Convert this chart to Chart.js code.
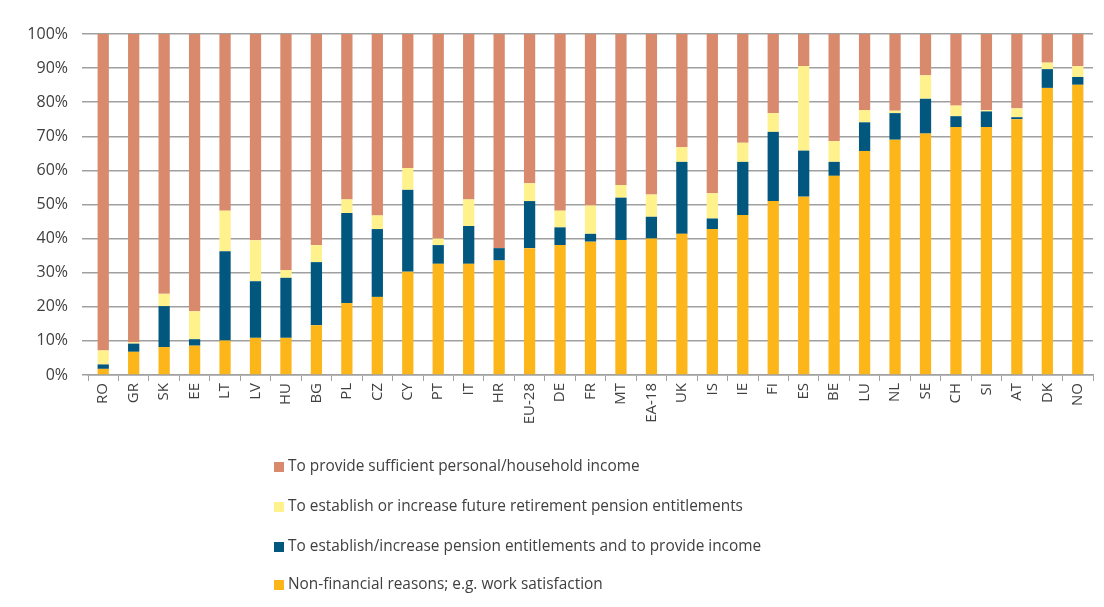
<!DOCTYPE html>
<html>
<head>
<meta charset="utf-8">
<script src="https://cdn.jsdelivr.net/npm/chart.js@4"></script>
<style>
  body { margin: 0; background: #fff; }
  #wrap { position: relative; width: 1104px; height: 607px; }
  #legend { position: absolute; left: 274px; top: 0; font-family: "Open Sans", sans-serif; font-size: 15.4px; color: #404040; }
  .item { position: absolute; white-space: nowrap; left: 0; }
  .item span.box { display: inline-block; width: 10px; height: 10px; margin-right: 4px; vertical-align: -1px; }
</style>
</head>
<body>
<div id="wrap">
  <canvas id="chart" width="1104" height="607"></canvas>
  <div id="legend"></div>
</div>
<script>
var countries = ['RO','GR','SK','EE','LT','LV','HU','BG','PL','CZ','CY','PT','IT','HR','EU-28','DE','FR','MT','EA-18','UK','IS','IE','FI','ES','BE','LU','NL','SE','CH','SI','AT','DK','NO']

var nonFinancial = [1.8, 6.8, 8.2, 8.6, 10.1, 10.9, 10.9, 14.6, 21.1, 22.9, 30.3, 32.6, 32.6, 33.6, 37.2, 38.1, 39.1, 39.6, 40.0, 41.4, 42.8, 46.9, 51.0, 52.3, 58.4, 65.7, 69.0, 70.8, 72.7, 72.7, 75.0, 84.2, 85.1]
var pensionAndIncome = [1.3, 2.4, 12.0, 1.9, 26.2, 16.6, 17.6, 18.5, 26.4, 19.9, 24.0, 5.5, 11.1, 3.6, 13.8, 5.2, 2.3, 12.4, 6.4, 21.1, 3.1, 15.6, 20.3, 13.5, 4.1, 8.4, 7.8, 10.2, 3.2, 4.6, 0.6, 5.5, 2.3]
var retirement = [4.1, 0.4, 3.6, 8.2, 11.9, 12.0, 2.3, 5.0, 4.0, 4.0, 6.4, 1.9, 7.8, 0.0, 5.2, 4.9, 8.3, 3.7, 6.5, 4.3, 7.4, 5.6, 5.5, 24.8, 6.1, 3.6, 0.7, 6.9, 3.1, 0.4, 2.6, 1.9, 3.2]
// the rest up to 100%
var income = countries.map(function (c, i) {
    return +(100 - nonFinancial[i] - pensionAndIncome[i] - retirement[i]).toFixed(1)
})

var yTicks = [0, 10, 20, 30, 40, 50, 60, 70, 80, 90, 100]

var seriesNames = [
    'Non-financial reasons; e.g. work satisfaction',
    'To establish/increase pension entitlements and to provide income',
    'To establish or increase future retirement pension entitlements',
    'To provide sufficient personal/household income'
]
var seriesColors = ['#FDB61A', '#02577F', '#FFF18C', '#D9896C']
var seriesData = [nonFinancial, pensionAndIncome, retirement, income]

var datasets = seriesData.map(function (d, i) {
    return {
        label: seriesNames[i],
        data: d,
        backgroundColor: seriesColors[i],
        borderWidth: 0,
        categoryPercentage: 1,
        barPercentage: 0.37
    }
})

var ctx = document.getElementById('chart').getContext('2d')
var chart = new Chart(ctx, {
    type: 'bar',
    data: { labels: countries, datasets: datasets },
    options: {
        responsive: false,
        animation: false,
        layout: { padding: { left: 0, right: 11, top: 34, bottom: 180 } },
        plugins: { legend: { display: false }, tooltip: { enabled: false } },
        scales: {
            x: {
                stacked: true,
                grid: { display: true, drawOnChartArea: false, drawTicks: true, tickLength: 6, color: '#A0A0A0', offset: true },
                border: { display: true, color: '#A0A0A0', width: 1.5 },
                ticks: {
                    minRotation: 90, maxRotation: 90, autoSkip: false,
                    color: '#404040', padding: 2,
                    font: { family: 'Open Sans', size: 15 }
                },
                afterFit: function (scale) { scale.height = 52 }
            },
            y: {
                stacked: true,
                min: 0, max: 100,
                afterBuildTicks: function (scale) {
                    scale.ticks = yTicks.map(function (v) { return { value: v } })
                },
                grid: { color: '#A0A0A0', lineWidth: 1.5, drawTicks: true, tickLength: 6 },
                border: { display: false },
                ticks: {
                    color: '#404040', padding: 14,
                    font: { family: 'Open Sans', size: 16 },
                    callback: function (v) { return v + '%' }
                },
                afterFit: function (scale) { scale.width = 88 }
            }
        }
    }
})

// legend, one entry per row, top series first
var legend = document.getElementById('legend')
var rowTops = [455, 495, 535, 573]
for (var i = 3; i >= 0; i--) {
    var el = document.createElement('div')
    el.className = 'item'
    el.style.top = rowTops[3 - i] + 'px'
    el.innerHTML = '<span class="box" style="background:' + seriesColors[i] + '"></span>' + seriesNames[i]
    legend.appendChild(el)
}
</script>
</body>
</html>
